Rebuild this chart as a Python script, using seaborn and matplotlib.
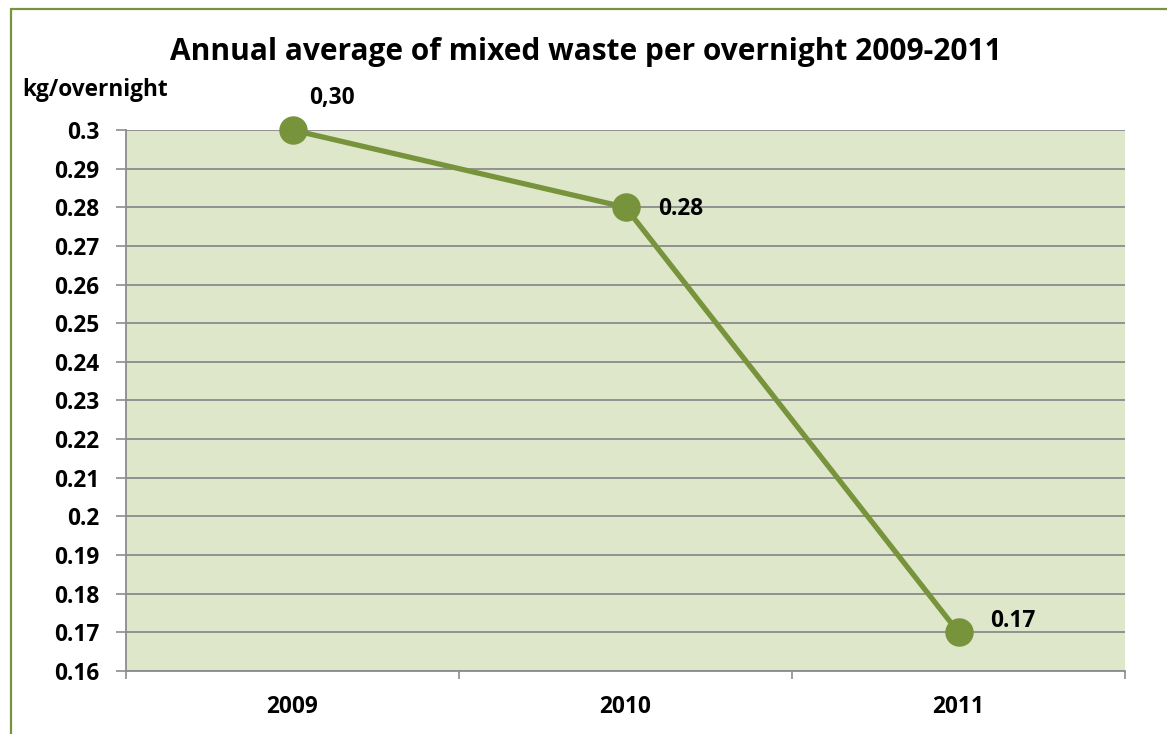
import matplotlib
matplotlib.use('Agg')
import matplotlib.pyplot as plt
import matplotlib.patches as patches
from matplotlib.ticker import FixedLocator, FuncFormatter
import pandas as pd
import seaborn as sns

# Datos del gráfico
years = ['2009', '2010', '2011']
waste = [0.30, 0.28, 0.17]
value_labels = ['0,30', '0.28', '0.17']

data = pd.DataFrame({'Year': years, 'Waste': waste})

sns.set_theme(style='white')
plt.rcParams['font.family'] = ['Open Sans', 'DejaVu Sans']
plt.rcParams['font.weight'] = 'bold'
plt.rcParams['text.color'] = 'black'
plt.rcParams['xtick.color'] = 'black'
plt.rcParams['ytick.color'] = 'black'

green = '#77933C'
fill = '#DEE7C9'
grid = '#8C8C8C'
fs = 16.3

fig = plt.figure(figsize=(11.67, 7.34), dpi=100)
ax = fig.add_axes([126 / 1167, 63 / 734, 999 / 1167, 541 / 734])
ax.set_facecolor(fill)

sns.lineplot(data=data, x='Year', y='Waste', ax=ax, color=green, linewidth=3.8,
             marker='o', markersize=20.5, markeredgewidth=0, zorder=3, clip_on=False)

ax.set_xlim(-0.5, 2.5)
ax.set_ylim(0.16, 0.30)

# Eje Y
yt = [round(0.16 + 0.01 * i, 2) for i in range(15)]
ax.set_yticks(yt)
ax.yaxis.set_major_formatter(FuncFormatter(lambda v, p: f'{round(v, 2):g}'))
ax.tick_params(axis='y', which='major', length=7, width=1.2, color=grid, pad=12,
               labelsize=fs, labelcolor='black', left=True)
ax.grid(axis='y', color=grid, linewidth=1.3, zorder=0)

# Eje X
ax.xaxis.set_minor_locator(FixedLocator([-0.5, 0.5, 1.5, 2.5]))
ax.tick_params(axis='x', which='major', length=0, pad=17, labelsize=fs, labelcolor='black')
ax.tick_params(axis='x', which='minor', length=6, width=1.2, color=grid, bottom=True)
ax.set_xlabel('')
ax.set_ylabel('')

for s in ['top', 'right']:
    ax.spines[s].set_visible(False)
for s in ['left', 'bottom']:
    ax.spines[s].set_color(grid)
    ax.spines[s].set_linewidth(1.3)

for lab in ax.get_xticklabels() + ax.get_yticklabels():
    lab.set_fontweight('bold')

# Etiquetas de datos
offsets = [(39, 32), (55, -2), (54, 11)]
for i, (v, t) in enumerate(zip(waste, value_labels)):
    ax.annotate(t, (i, v), xytext=offsets[i], textcoords='offset pixels',
                ha='center', va='center', fontsize=fs, fontweight='bold',
                annotation_clip=False)

# Títulos
fig.text(586 / 1167, 1 - 52 / 734, 'Annual average of mixed waste per overnight 2009-2011',
         ha='center', va='center', fontsize=21.5, fontweight='bold')
fig.text(22 / 1167, 1 - 90 / 734, 'kg/overnight', ha='left', va='center',
         fontsize=fs, fontweight='bold')

# Marco verde del gráfico
fig.add_artist(patches.Rectangle((11 / 1167, -0.1), 1.2, 1.1 - 9 / 734,
                                 transform=fig.transFigure, fill=False,
                                 edgecolor=green, linewidth=1.6))

plt.savefig('out.png', dpi=100)
